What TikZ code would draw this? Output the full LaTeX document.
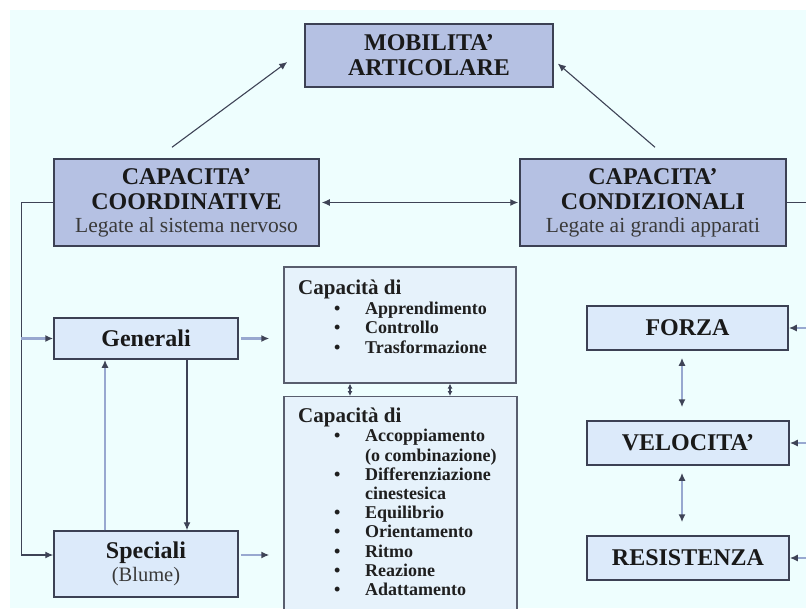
\documentclass[tikz,border=0pt]{standalone}
\usepackage{fontspec}
\setmainfont{Liberation Serif}
\usetikzlibrary{arrows.meta,calc}

\definecolor{bgcyan}{HTML}{EEFEFE}
\definecolor{darkfill}{HTML}{B5C1E3}
\definecolor{lightfill}{HTML}{DCEAFA}
\definecolor{listfill}{HTML}{E6F2FB}
\definecolor{edge}{HTML}{3C4154}
\definecolor{linkblue}{HTML}{98A8D0}
\definecolor{linkdark}{HTML}{3E4356}
\definecolor{subtext}{HTML}{3A3A3A}

\tikzset{
  bigbold/.style={font=\bfseries\fontsize{24}{25}\selectfont},
  headbox/.style={draw=edge, line width=1.5pt, fill=darkfill, inner sep=0pt,
    align=center, text=black!90, bigbold},
  catbox/.style={draw=edge, line width=1.5pt, fill=lightfill, inner sep=0pt,
    align=center, text=black!90, bigbold},
  listbox/.style={draw=edge!85, line width=1.3pt, fill=listfill, inner sep=0pt},
  listtext/.style={anchor=north west, inner sep=0pt, align=left, text=black!88,
    font=\bfseries\fontsize{18}{19.5}\selectfont},
  tip/.style={-{Latex[length=8pt,width=7pt,color=linkdark]}},
  dtip/.style={{Latex[length=8pt,width=7pt,color=linkdark]}-{Latex[length=8pt,width=7pt,color=linkdark]}},
  smalldtip/.style={{Latex[length=5pt,width=5pt,color=linkdark]}-{Latex[length=5pt,width=5pt,color=linkdark]}},
  darkline/.style={draw=linkdark, line width=1.2pt},
  blueline/.style={draw=linkblue, line width=2.4pt},
}

% one bullet line of a list, and its continuation line
\newcommand{\bulletitem}[1]{\hspace*{36pt}\makebox[31pt][l]{\textbullet}#1}
\newcommand{\contitem}[1]{\hspace*{67pt}#1}

\begin{document}
\begin{tikzpicture}[x=1pt,y=-1pt]
\useasboundingbox (0,0) rectangle (806,608);
\fill[white] (0,0) rectangle (806,608);
\fill[bgcyan] (10,10) rectangle (806,608);

\begin{scope}
\clip (0,0) rectangle (806,608);

% ---- main boxes
\node[headbox, minimum width=248pt, minimum height=63pt] (mob) at (429,55.5)
  {MOBILITA'\\ARTICOLARE};
\node[headbox, minimum width=265pt, minimum height=87pt] (coord) at (186.5,202.5)
  {CAPACITA'\\COORDINATIVE\\[-2pt]{\mdseries\fontsize{21.5}{23}\selectfont\color{subtext}Legate al sistema nervoso}};
\node[headbox, minimum width=266pt, minimum height=87pt] (cond) at (653,202.5)
  {CAPACITA'\\CONDIZIONALI\\[-2pt]{\mdseries\fontsize{21.5}{23}\selectfont\color{subtext}Legate ai grandi apparati}};

% ---- coordinative side
\node[catbox, minimum width=184pt, minimum height=41pt] (gen) at (146,338.5) {Generali};
\node[catbox, minimum width=184pt, minimum height=66pt] (spe) at (146,564)
  {Speciali\\[-2pt]{\mdseries\fontsize{20.5}{22}\selectfont\color{subtext}(Blume)}};

\node[listbox, minimum width=232pt, minimum height=116pt] (box1) at (400,325) {};
\node[listbox, minimum width=233pt, minimum height=240pt, anchor=north] (box2) at (400.5,396) {};

\node[listtext] (list1) at (298,280)
  {{\fontsize{21}{19.5}\selectfont Capacità di}\\
   \bulletitem{Apprendimento}\\
   \bulletitem{Controllo}\\
   \bulletitem{Trasformazione}};
\node[listtext, font=\bfseries\fontsize{18}{19.2}\selectfont] (list2) at (298,408)
  {{\fontsize{21}{19.2}\selectfont Capacità di}\\
   \bulletitem{Accoppiamento}\\
   \contitem{(o combinazione)}\\
   \bulletitem{Differenziazione}\\
   \contitem{cinestesica}\\
   \bulletitem{Equilibrio}\\
   \bulletitem{Orientamento}\\
   \bulletitem{Ritmo}\\
   \bulletitem{Reazione}\\
   \bulletitem{Adattamento}};

% ---- conditional side
\node[catbox, minimum width=201pt, minimum height=44pt] (forza) at (687.5,328) {FORZA};
\node[catbox, minimum width=202pt, minimum height=44pt] (velo) at (688,443) {VELOCITA'};
\node[catbox, minimum width=202pt, minimum height=44pt] (resi) at (688,558) {RESISTENZA};

% ---- connectors to the top box
\coordinate (m1s) at ($(coord.north)+(-14.5,-11)$);
\coordinate (m1e) at ($(mob.west)+(-17,6.5)$);
\coordinate (m2s) at ($(cond.north)+(2,-11)$);
\coordinate (m2e) at ($(mob.east)+(4,8)$);
\draw[darkline, line width=1.1pt, tip] (m1s) -- (m1e);
\draw[darkline, line width=1.1pt, tip] (m2s) -- (m2e);

% ---- link between the two capacities
\draw[darkline, dtip, shorten <=2pt, shorten >=1pt] (coord.east) -- (cond.west);

% ---- left spine to Generali and Speciali
\coordinate (spine) at ($(coord.west)+(-32,0)$);
\coordinate (speIn) at ($(spe.west)+(0,-9)$);
\draw[darkline, tip] (coord.west) -- (spine) |- (speIn);
\draw[blueline, tip] (spine |- gen.west) -- (gen.west);

\coordinate (xL) at (105,0);
\coordinate (xR) at (187,0);
\draw[blueline, tip] (spe.north -| xL) -- (gen.south -| xL);
\draw[darkline, tip] (gen.south -| xR) -- (spe.north -| xR);

\draw[blueline, tip, shorten <=2pt, shorten >=14pt] (gen.east) -- (gen.east -| box1.west);
\draw[blueline, tip, shorten <=2pt, shorten >=14pt] (speIn -| spe.east) -- (speIn -| box2.west);

\coordinate (xA) at (350,0);
\coordinate (xB) at (450,0);
\draw[darkline, smalldtip] (box1.south -| xA) -- (box2.north -| xA);
\draw[darkline, smalldtip] (box1.south -| xB) -- (box2.north -| xB);

% ---- right spine to the physical capacities
\coordinate (rspine) at ($(cond.east)+(26,0)$);
\draw[darkline] (cond.east) -- (rspine) -- (rspine |- resi.east);
\draw[blueline, tip] (rspine |- forza.east) -- (forza.east);
\draw[blueline, tip] (rspine |- velo.east) -- (velo.east);
\draw[blueline, tip] (rspine |- resi.east) -- (resi.east);

\coordinate (xC) at (682,0);
\draw[blueline, dtip, shorten <=7pt, shorten >=13pt] (forza.south -| xC) -- (velo.north -| xC);
\draw[blueline, dtip, shorten <=7pt, shorten >=13pt] (velo.south -| xC) -- (resi.north -| xC);
\end{scope}
\end{tikzpicture}
\end{document}
